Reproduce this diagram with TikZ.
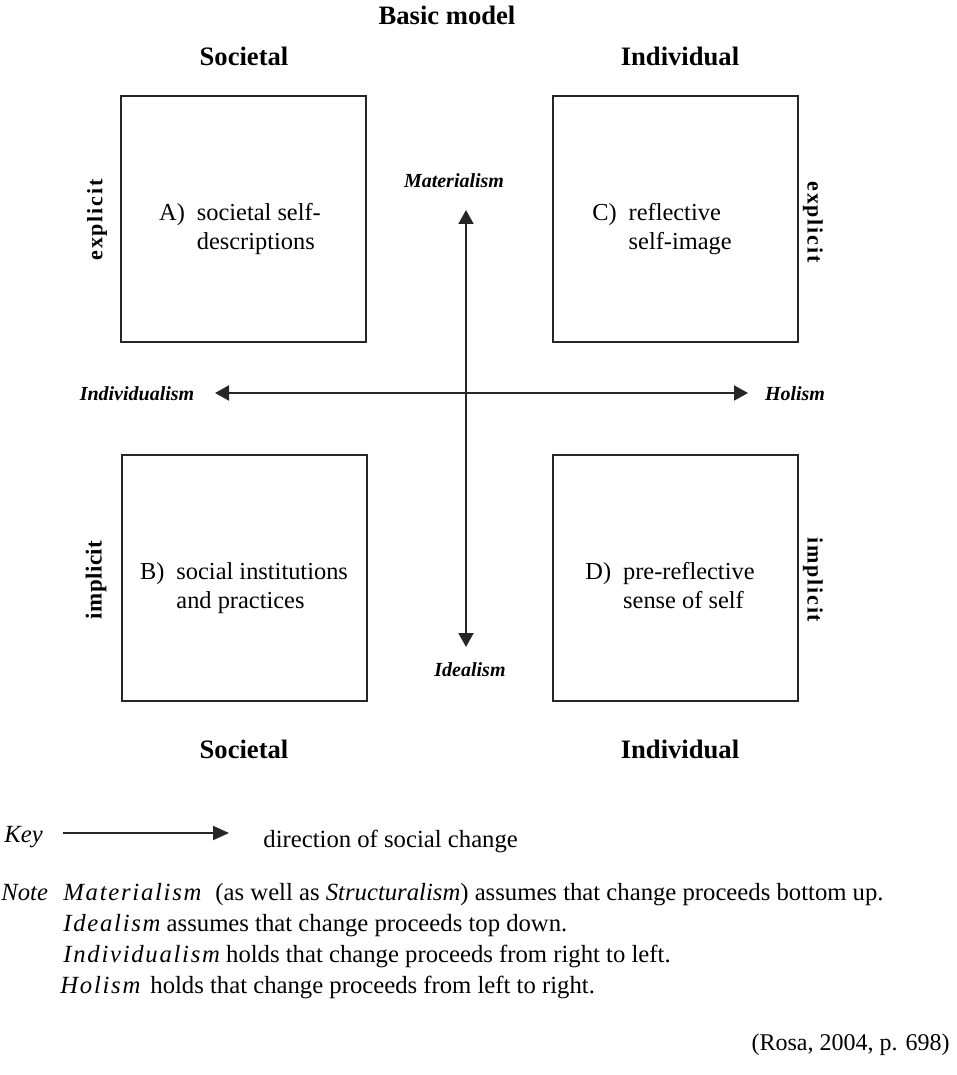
\documentclass[tikz,border=0pt]{standalone}
\usepackage{fontspec}
\setmainfont{Liberation Serif}
\usetikzlibrary{arrows.meta}
\begin{document}
\begin{tikzpicture}[x=0.5pt,y=-0.5pt,
  quad/.style={draw=black!85, line width=0.85pt, minimum width=122.5pt, minimum height=123pt, inner sep=0pt},
  head/.style={font=\fontsize{13.3}{16}\selectfont\bfseries, anchor=base, inner sep=0pt},
  side/.style={font=\fontsize{11}{13}\selectfont\bfseries\addfontfeature{LetterSpace=8}, inner sep=0pt},
  sidetight/.style={font=\fontsize{11.5}{13}\selectfont\bfseries\addfontfeature{LetterSpace=2}, inner sep=0pt},
  qtext/.style={font=\fontsize{12.2}{14.5}\selectfont, inner sep=0pt},
  pole/.style={font=\fontsize{10}{12}\selectfont\bfseries\itshape, inner sep=0pt},
  axis/.style={line width=1pt, draw=black!85, {Triangle[length=7pt,width=7.5pt]}-{Triangle[length=7pt,width=7.5pt]}},
  keyarrow/.style={line width=1pt, draw=black!85, -{Triangle[length=8pt,width=7pt]}},
  notetext/.style={font=\fontsize{12.35}{15}\selectfont, anchor=base west, inner sep=0pt},
]
\useasboundingbox (0,0) rectangle (957,1075);

% headings
\node[head] (title) at (447,25) {Basic model};
\node[head] (socTop) at (244,66) {Societal};
\node[head] (indTop) at (680,66) {Individual};
\node[head] (socBot) at (244,758) {Societal};
\node[head] (indBot) at (680,758) {Individual};

% the four quadrants
\node[quad] (A) at (243.5,219) {};
\node[quad] (C) at (675.5,219) {};
\node[quad] (B) at (244.5,578) {};
\node[quad] (D) at (675.5,578) {};

\node[qtext] (Atext) at (240,229) {\begin{tabular}{@{}l@{\hspace{6pt}}l@{}}A) & societal self-\\ & descriptions\end{tabular}};
\node[qtext] (Ctext) at (662,229) {\begin{tabular}{@{}l@{\hspace{6pt}}l@{}}C) & reflective\\ & self-image\end{tabular}};
\node[qtext] (Btext) at (244,588) {\begin{tabular}{@{}l@{\hspace{6pt}}l@{}}B) & social institutions\\ & and practices\end{tabular}};
\node[qtext] (Dtext) at (670,588) {\begin{tabular}{@{}l@{\hspace{6pt}}l@{}}D) & pre-reflective\\ & sense of self\end{tabular}};

% side labels
\node[side, rotate=90] (explL) at (97,220) {explicit};
\node[side, rotate=-90] (explR) at (813,222) {explicit};
\node[sidetight, rotate=90] (implL) at (96,580) {implicit};
\node[side, rotate=-90] (implR) at (813,580) {implicit};

% axes
\coordinate (mtip) at (466,210);
\coordinate (itip) at (466,647);
\coordinate (ltip) at (215,393);
\coordinate (rtip) at (748,393);
\draw[axis] (mtip) -- (itip);
\draw[axis] (ltip) -- (rtip);

\node[pole] (mat) at (454,181) {Materialism};
\node[pole] (ide) at (470,670) {Idealism};
\node[pole] (indv) at (137,394) {Individualism};
\node[pole] (hol) at (795,394) {Holism};

% key
\node[notetext, font=\fontsize{12.35}{15}\selectfont\itshape] (key) at (4,842) {Key};
\coordinate (ks) at (63,833);
\coordinate (ke) at (229,833);
\draw[keyarrow] (ks) -- (ke);
\node[notetext] (keytext) at (263,847) {direction of social change};

% note
\node[notetext, font=\fontsize{12.35}{15}\selectfont\itshape] (note) at (1,900) {Note};
\node[notetext] (n1) at (63,900) {{\itshape\addfontfeature{LetterSpace=7}Materialism}\hspace{7pt}(as well as \textit{Structuralism}) assumes that change proceeds bottom up.};
\node[notetext] (n2) at (63,931) {{\itshape\addfontfeature{LetterSpace=7}Idealism} assumes that change proceeds top down.};
\node[notetext] (n3) at (63,962) {{\itshape\addfontfeature{LetterSpace=7}Individualism} holds that change proceeds from right to left.};
\node[notetext] (n4) at (60,993) {{\itshape\addfontfeature{LetterSpace=7}Holism}\hspace{5pt}holds that change proceeds from left to right.};

% source
\node[anchor=base east, inner sep=0pt, font=\fontsize{12}{14}\selectfont] (src) at (950,1050) {(Rosa, 2004, p. 698)};
\end{tikzpicture}
\end{document}
